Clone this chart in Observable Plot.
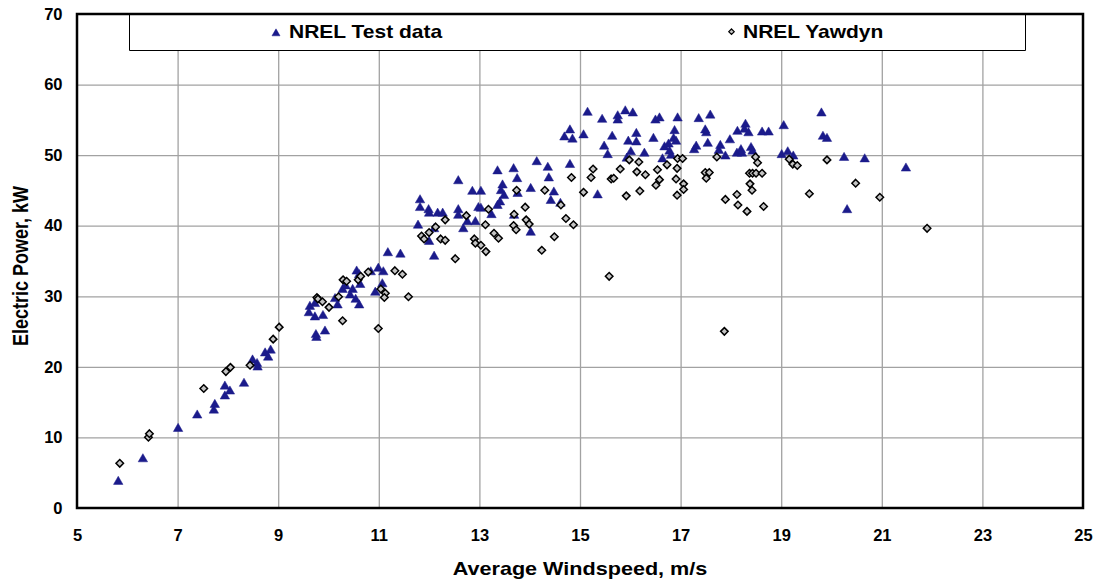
<!DOCTYPE html>
<html>
<head>
<meta charset="utf-8">
<script src="https://cdn.jsdelivr.net/npm/d3@7"></script>
<script src="https://cdn.jsdelivr.net/npm/@observablehq/plot@0.6"></script>
<style>
  html, body { margin: 0; padding: 0; background: #ffffff; }
  #chart { position: relative; width: 1097px; height: 586px; }
</style>
</head>
<body>
<div id="chart"></div>
<script>
// Measured power curve: [average windspeed (m/s), electric power (kW)]
const nrelTestData = [
  [5.81,3.8],[6.30,7.0],[7.00,11.3],[7.38,13.2],[7.71,13.9],[7.73,14.7],[7.93,15.9],[8.03,16.6],
  [7.93,17.3],[8.31,17.7],[8.48,21.0],[8.57,20.5],[8.58,20.0],[8.73,22.0],[8.84,22.4],[8.79,21.4],
  [9.62,28.6],[9.72,29.0],[9.60,27.7],[9.72,27.1],[9.88,27.3],[9.74,24.6],[9.75,24.2],[9.92,25.1],
  [10.12,29.7],[10.17,28.8],[10.27,31.0],[10.33,31.5],[10.47,31.0],[10.42,30.2],[10.53,29.6],[10.60,28.8],
  [10.55,33.6],[10.60,33.1],[10.62,31.7],[10.83,33.5],[10.98,34.0],[11.08,33.5],[11.06,31.8],[10.92,30.6],
  [11.17,36.2],[11.42,36.0],[11.77,40.1],[11.81,43.7],[11.81,42.6],[11.98,42.3],[11.99,41.8],[11.99,37.8],
  [12.09,39.6],[12.09,35.7],[12.16,41.8],[12.26,41.8],[12.57,46.4],[12.57,42.3],[12.57,41.5],[12.67,39.6],
  [12.75,40.6],[12.85,44.9],[13.02,44.9],[12.91,40.6],[12.97,42.6],[13.02,42.5],[13.23,41.6],[13.35,47.8],
  [13.35,42.9],[13.40,43.4],[13.45,45.8],[13.42,45.0],[13.48,44.3],[13.67,48.1],[13.74,46.7],[13.75,44.6],
  [13.68,41.5],[14.01,45.3],[14.01,39.1],[14.13,49.1],[14.35,48.3],[14.37,46.8],[14.47,44.8],[14.41,43.6],
  [14.60,43.2],[14.79,53.6],[14.68,52.6],[14.84,52.3],[14.79,48.7],[15.06,52.9],[15.14,56.1],[15.43,55.1],
  [15.63,52.7],[15.47,51.3],[15.54,50.1],[15.34,44.4],[15.74,55.6],[15.74,55.0],[15.89,56.3],[16.04,56.0],
  [15.95,52.0],[16.11,53.1],[16.11,51.9],[16.00,50.5],[15.92,49.6],[16.27,50.3],[16.45,52.4],[16.49,55.0],
  [16.57,55.3],[16.63,49.5],[16.67,51.2],[16.75,51.6],[16.77,50.6],[16.80,50.0],[16.87,53.5],[16.85,52.4],
  [16.90,52.0],[16.93,55.3],[17.26,50.8],[17.30,51.3],[17.35,55.2],[17.58,55.7],[17.48,53.6],[17.50,53.2],
  [17.53,51.7],[17.75,50.7],[17.78,51.4],[17.88,49.9],[17.97,52.2],[18.12,53.4],[18.28,54.4],[18.26,53.7],
  [18.34,53.2],[18.11,50.3],[18.19,50.8],[18.21,50.3],[18.39,51.1],[18.42,50.6],[18.61,53.3],[18.74,53.3],
  [19.00,50.1],[19.04,54.2],[19.12,50.5],[19.23,49.9],[19.79,56.0],[19.82,52.7],[19.90,52.4],[20.24,49.7],
  [20.30,42.3],[20.65,49.5],[21.47,48.2]
];

// Yawdyn simulation: [average windspeed (m/s), electric power (kW)]
const nrelYawdyn = [
  [5.84,6.4],[6.41,10.1],[6.43,10.6],[7.51,17.0],[7.95,19.4],[8.04,20.0],[8.43,20.3],[8.89,24.0],
  [9.01,25.7],[9.76,29.9],[9.78,29.7],[9.87,29.3],[10.00,28.5],[10.19,30.0],[10.27,26.6],[10.28,32.4],
  [10.35,32.2],[10.58,32.4],[10.63,32.9],[10.78,33.5],[11.03,31.1],[11.12,30.5],[11.10,29.9],[10.98,25.5],
  [11.31,33.7],[11.46,33.2],[11.58,30.0],[11.84,38.6],[11.89,38.2],[11.99,39.1],[12.12,39.9],[12.31,40.9],
  [12.22,38.2],[12.31,38.0],[12.51,35.4],[12.73,41.5],[12.89,38.2],[12.91,37.6],[13.02,37.3],[13.12,36.4],
  [13.11,40.2],[13.17,42.4],[13.28,39.0],[13.37,38.3],[13.67,40.1],[13.72,39.5],[13.68,41.7],[13.73,45.1],
  [13.90,42.7],[13.92,40.9],[13.98,40.3],[14.29,45.1],[14.23,36.6],[14.48,38.5],[14.61,43.0],[14.71,41.1],
  [14.86,40.2],[14.82,46.9],[15.06,44.8],[15.21,46.9],[15.25,48.1],[15.61,46.7],[15.66,46.8],[15.79,48.1],
  [15.91,44.3],[15.97,49.4],[16.16,49.1],[16.12,47.7],[16.29,47.3],[16.18,45.0],[16.53,48.0],[16.57,46.6],
  [16.50,45.8],[16.72,48.7],[16.93,49.6],[17.03,49.6],[16.92,48.2],[16.90,46.7],[17.05,46.0],[17.05,45.2],
  [16.92,44.4],[15.57,32.9],[17.86,25.1],[17.71,49.8],[17.48,47.6],[17.56,47.6],[17.50,46.8],[18.48,49.8],
  [18.52,49.0],[18.36,47.5],[18.42,47.5],[18.49,47.5],[18.61,47.5],[18.37,46.0],[18.41,45.1],[17.88,43.8],
  [18.11,44.5],[18.13,43.0],[18.31,42.1],[18.64,42.8],[19.15,49.5],[19.22,48.8],[19.31,48.6],[19.90,49.4],
  [19.55,44.6],[20.47,46.1],[20.95,44.1],[21.89,39.7]
];

const xTicks = [5, 7, 9, 11, 13, 15, 17, 19, 21, 23, 25];
const yTicks = [0, 10, 20, 30, 40, 50, 60, 70];
const seriesNames = ["NREL Test data", "NREL Yawdyn"];
const xTitle = "Average Windspeed, m/s";
const yTitle = "Electric Power, kW";

const W = 1097, H = 586;
const mL = 77, mR = 14, mT = 14, mB = 78;
const FONT = "'Liberation Sans', Arial, Helvetica, sans-serif";
const STRETCH = 1.2;           // glyphs are drawn wider than tall
const triColor = "#1b1b8b";
const gridColor = "#a2a2a2";

// A square diamond (rotated square) symbol for the Yawdyn series
const squareDiamond = {
  draw(context, size) {
    const r = Math.sqrt(size / 2);
    context.moveTo(0, -r);
    context.lineTo(r, 0);
    context.lineTo(0, r);
    context.lineTo(-r, 0);
    context.closePath();
  }
};

const testRows = nrelTestData.map(([wind, power]) => ({wind, power}));
const yawRows = nrelYawdyn.map(([wind, power]) => ({wind, power}));

const svg = Plot.plot({
  width: W,
  height: H,
  marginLeft: mL,
  marginRight: mR,
  marginTop: mT,
  marginBottom: mB,
  style: {background: "#ffffff", color: "#000000", fontFamily: FONT},
  x: {domain: [5, 25], axis: null},
  y: {domain: [0, 70], axis: null},
  marks: [
    Plot.ruleX(xTicks.slice(1, -1), {stroke: gridColor, strokeWidth: 1.3}),
    Plot.ruleY(yTicks.slice(1, -1), {stroke: gridColor, strokeWidth: 1.3}),
    Plot.dot(testRows, {x: "wind", y: "power", symbol: "triangle", r: 3.5, fill: triColor, stroke: triColor, strokeWidth: 0.5}),
    Plot.dot(yawRows, {x: "wind", y: "power", symbol: squareDiamond, r: 3.0, fill: "#c4c4c4", stroke: "#000000", strokeWidth: 1.5}),
    Plot.text(xTicks, {x: d => d, text: d => String(d), frameAnchor: "bottom", dy: 27, lineAnchor: "middle",
      textAnchor: "middle", fontSize: 16.5, fontWeight: "bold", fontFamily: FONT, fill: "#000", ariaLabel: "x tick label"}),
    Plot.text(yTicks, {y: d => d, text: d => String(d), frameAnchor: "left", dx: -15, lineAnchor: "middle",
      textAnchor: "end", fontSize: 16.5, fontWeight: "bold", fontFamily: FONT, fill: "#000", ariaLabel: "y tick label"})
  ]
});

document.getElementById("chart").appendChild(svg);

// widen tick label glyphs around their anchor points
svg.querySelectorAll('g[aria-label="x tick label"] text, g[aria-label="y tick label"] text').forEach(el => {
  const t = el.getAttribute("transform") || "";
  el.setAttribute("transform", (t + ` scale(${STRETCH},1)`).trim());
});

const root = d3.select(svg);
const plotLeft = mL, plotRight = W - mR, plotTop = mT, plotBottom = H - mB;

// Legend box hanging from the top edge of the plot frame
const leg = root.append("g").attr("aria-label", "legend");
const legLeft = 129.5, legRight = 1025.5, legBottom = 50.5;
leg.append("rect")
  .attr("x", legLeft).attr("y", plotTop)
  .attr("width", legRight - legLeft).attr("height", legBottom - plotTop)
  .attr("fill", "#ffffff");
leg.append("path")
  .attr("d", `M${legLeft},${plotTop}V${legBottom}H${legRight}V${plotTop}`)
  .attr("fill", "none").attr("stroke", "#000").attr("stroke-width", 1);

const legItems = [
  {name: seriesNames[0], mx: 276, my: 33.5, text: 289,
   symbol: d3.symbol(d3.symbolTriangle, 28)(), fill: triColor, stroke: triColor, sw: 0.5},
  {name: seriesNames[1], mx: 731.5, my: 31.7, text: 743,
   symbol: d3.symbol(squareDiamond, 15)(), fill: "#c4c4c4", stroke: "#000", sw: 1.2}
];
for (const it of legItems) {
  leg.append("path").attr("d", it.symbol)
    .attr("transform", `translate(${it.mx},${it.my})`)
    .attr("fill", it.fill).attr("stroke", it.stroke).attr("stroke-width", it.sw);
  leg.append("text")
    .attr("transform", `translate(${it.text},38.3) scale(${STRETCH},1)`)
    .attr("text-anchor", "start")
    .attr("font-family", FONT).attr("font-weight", "bold").attr("font-size", 17.5)
    .attr("fill", "#000").text(it.name);
}

// Plot frame, drawn over the legend's top edge
root.append("rect")
  .attr("x", plotLeft).attr("y", plotTop)
  .attr("width", plotRight - plotLeft).attr("height", plotBottom - plotTop)
  .attr("fill", "none").attr("stroke", "#000").attr("stroke-width", 2.5);

// Axis titles
root.append("text")
  .attr("transform", `translate(${(plotLeft + plotRight) / 2},575) scale(${STRETCH},1)`)
  .attr("text-anchor", "middle")
  .attr("font-family", FONT).attr("font-weight", "bold").attr("font-size", 18)
  .attr("fill", "#000").text(xTitle);
root.append("text")
  .attr("transform", `translate(27.5,266) scale(${STRETCH},1) rotate(-90)`)
  .attr("text-anchor", "middle")
  .attr("font-family", FONT).attr("font-weight", "bold").attr("font-size", 18)
  .attr("fill", "#000").text(yTitle);
</script>
</body>
</html>
